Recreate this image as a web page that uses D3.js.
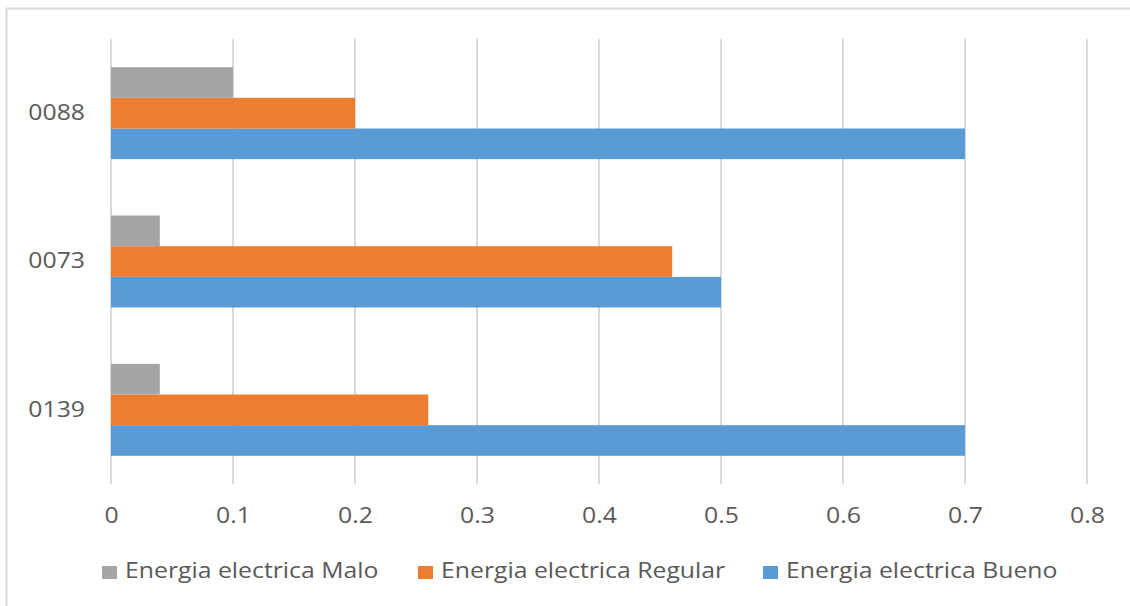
<!DOCTYPE html>
<html><head><meta charset="utf-8">
<script src="https://cdn.jsdelivr.net/npm/d3@7"></script>
<style>body{margin:0;background:#fff;} svg{display:block;} text{font-family:"Open Sans","Noto Sans",sans-serif;fill:#595959;}</style>
</head><body>
<svg id="c" width="1130" height="606"></svg>
<script>
const categories = ["0139", "0073", "0088"];
const seriesNames = ["Energia electrica Bueno", "Energia electrica Regular", "Energia electrica Malo"];
const bueno = [0.7, 0.5, 0.7];
const regular = [0.26, 0.46, 0.2];
const malo = [0.04, 0.04, 0.1];
const xTicks = [0, 0.1, 0.2, 0.3, 0.4, 0.5, 0.6, 0.7, 0.8];
const colors = ["#5B9BD5", "#ED7D31", "#A5A5A5"];
const series = [bueno, regular, malo];
const legendOrder = [2, 1, 0];

(function(){
const svg = d3.select("#c");
const stretch = 1.18;
function widen(sel) {
  sel.each(function() {
    const w = this.getComputedTextLength();
    d3.select(this).attr("textLength", w * stretch).attr("lengthAdjust", "spacingAndGlyphs");
  });
}
// chart border
svg.append("rect").attr("x", 6.5).attr("y", 8.5).attr("width", 1140).attr("height", 620)
  .attr("fill", "none").attr("stroke", "#d9d9d9").attr("stroke-width", 2);

const pLeft = 111, pRight = 1087, pTop = 39, pBottom = 484;
const x = d3.scaleLinear().domain([0, 0.8]).range([pLeft, pRight]);
const y = d3.scaleBand().domain(categories.slice().reverse()).range([pTop, pBottom]).paddingInner(0.38).paddingOuter(0.19);
const inner = d3.scaleBand().domain([2, 1, 0]).range([0, y.bandwidth()]);

// gridlines
svg.append("g").selectAll("line").data(xTicks).join("line")
  .attr("x1", d => x(d)).attr("x2", d => x(d)).attr("y1", pTop).attr("y2", pBottom)
  .attr("stroke", "#d9d9d9").attr("stroke-width", 2);

// bars
series.forEach((vals, si) => {
  svg.append("g").selectAll("rect").data(categories).join("rect")
    .attr("x", x(0)).attr("y", (c) => y(c) + inner(si))
    .attr("width", (c, i) => x(vals[i]) - x(0))
    .attr("height", inner.bandwidth())
    .attr("fill", colors[si]);
});

// x axis labels
const xa = svg.append("g").attr("transform", `translate(0,${pBottom})`)
  .call(d3.axisBottom(x).tickValues(xTicks).tickFormat(d => d === 0 ? "0" : d3.format(".1f")(d)).tickSize(0).tickPadding(24));
xa.select(".domain").remove();
xa.selectAll("text").attr("font-size", 21).attr("font-family", null).attr("fill", "#595959").call(widen);

// y axis labels
const ya = svg.append("g").attr("transform", `translate(${pLeft},0)`)
  .call(d3.axisLeft(y).tickSize(0).tickPadding(26));
ya.select(".domain").remove();
ya.selectAll("text").attr("font-size", 21).attr("font-family", null).attr("fill", "#595959").call(widen);

// legend
const legX = [102, 418, 763];
const lg = svg.append("g");
legendOrder.forEach((si, k) => {
  lg.append("rect").attr("x", legX[k]).attr("y", 566).attr("width", 15).attr("height", 13).attr("fill", colors[si]);
  lg.append("text").attr("x", legX[k] + 23).attr("y", 578).attr("font-size", 21).text(seriesNames[si]).call(widen);
});
})();
</script>
</body></html>
